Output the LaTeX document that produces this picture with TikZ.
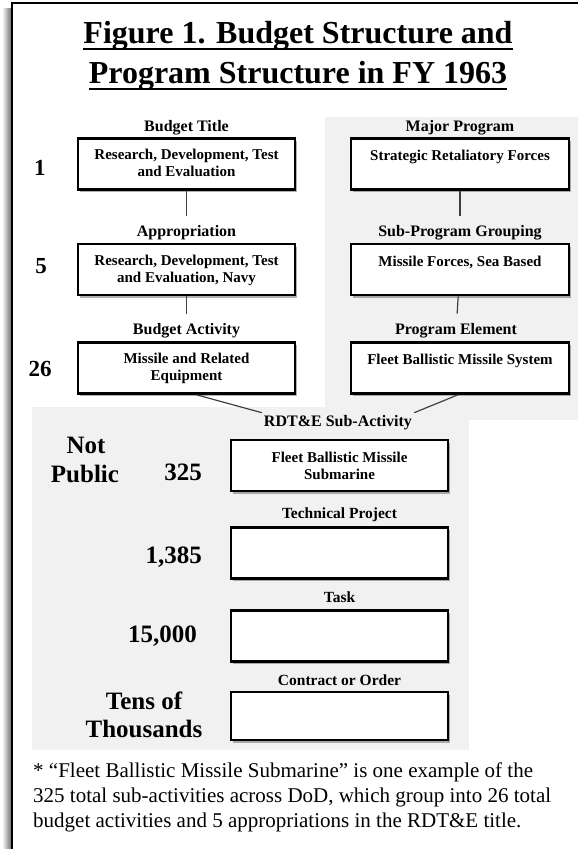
\documentclass[tikz,border=0pt]{standalone}
\usepackage{fontspec}
\setmainfont{Liberation Serif}
\usetikzlibrary{shadows}
\definecolor{panelgray}{RGB}{241,241,241}
\definecolor{conncol}{RGB}{64,64,64}
\begin{document}
\begin{tikzpicture}[x=1pt,y=-1pt,
  bx/.style={draw=black, line width=2.6pt, fill=white, inner sep=0pt,
    minimum width=217pt, minimum height=51pt,
    drop shadow={shadow xshift=1.5pt, shadow yshift=-2.5pt, opacity=0.3, fill=black}},
  ttl/.style={font=\fontsize{32}{40}\selectfont\bfseries, inner sep=0pt, anchor=base},
  lbl/.style={font=\fontsize{16}{18}\selectfont\bfseries, inner sep=1pt, anchor=base},
  slbl/.style={font=\fontsize{15.5}{17}\selectfont\bfseries, inner sep=1pt, anchor=base},
  btxt/.style={font=\fontsize{15}{17}\selectfont\bfseries, align=center, anchor=north, inner sep=0pt},
  num/.style={font=\fontsize{23}{27}\selectfont\bfseries, inner sep=0pt, anchor=base},
  big/.style={font=\fontsize{25}{30}\selectfont\bfseries, inner sep=0pt, anchor=base},
  fn/.style={font=\fontsize{21}{25}\selectfont, inner sep=0pt, anchor=base west},
  conn/.style={draw=conncol, line width=1.2pt},
  ul/.style={line width=2.3pt}]
\useasboundingbox (0,0) rectangle (578,849);
\fill[white] (0,0) rectangle (578,849);
% gray panels
\fill[panelgray] (325,117) rectangle (578,420);
\fill[panelgray] (32,407) rectangle (469,750);
% outer frame with shadow
\shade[left color=white, right color=black!55] (2,8) rectangle (11,849);
\draw[line width=2.5pt] (12,849) -- (12,3) -- (578,3);

% title
\node[ttl] (t1) at (298,43) {Figure 1. Budget Structure and};
\node[ttl] (t2) at (298,83) {Program Structure in FY 1963};
\draw[ul] ([yshift=-6pt]t1.base west) -- ([yshift=-6pt]t1.base east);
\draw[ul] ([yshift=-6pt]t2.base west) -- ([yshift=-6pt]t2.base east);

% left column
\node[lbl] (lt1) at (186.5,131) {Budget Title};
\node[bx] (l1) at (186.5,164) {};
\node[btxt] (l1t) at ([yshift=-12pt]l1.north) {Research, Development, Test\\and Evaluation};
\node[num] (n1) at (40,175) {1};

\node[lbl] (lt2) at (186.5,236) {Appropriation};
\node[bx] (l2) at (186.5,269.5) {};
\node[btxt] (l2t) at ([yshift=-12pt]l2.north) {Research, Development, Test\\and Evaluation, Navy};
\node[num] (n5) at (41,273) {5};

\node[lbl] (lt3) at (186.5,334) {Budget Activity};
\node[bx] (l3) at (186.5,368) {};
\node[btxt] (l3t) at ([yshift=-12pt]l3.north) {Missile and Related\\Equipment};
\node[num] (n26) at (40,376) {26};

\draw[conn, shorten >=8pt] (l1) -- (lt2);
\draw[conn, shorten >=8pt] (l2) -- (lt3);

% right column
\node[lbl] (rt1) at (460,131) {Major Program};
\node[bx, minimum width=218pt] (r1) at (460,164) {};
\node[btxt] (r1t) at ([yshift=-13pt]r1.north) {Strategic Retaliatory Forces};

\node[lbl] (rt2) at (460,236) {Sub-Program Grouping};
\node[bx, minimum width=218pt] (r2) at (460,269.5) {};
\node[btxt] (r2t) at ([yshift=-13pt]r2.north) {Missile Forces, Sea Based};

\node[lbl] (rt3) at (456,334) {Program Element};
\node[bx, minimum width=218pt] (r3) at (460,368) {};
\node[btxt] (r3t) at ([yshift=-13pt]r3.north) {Fleet Ballistic Missile System};

\draw[conn, shorten >=8pt] (r1) -- (rt2);
\draw[conn, shorten >=8pt] (r2) -- (rt3);

% sub-activity level
\node[lbl, inner sep=2pt] (rd) at (338,426) {RDT\&E Sub-Activity};
\draw[conn] ([xshift=10pt]l3.south) -- (rd.north west);
\draw[conn] ([xshift=-2pt]r3.south) -- (rd.north east);

\node[big] (np1) at (86,453) {Not};
\node[big] (np2) at (85,482) {Public};
\node[big] (c325) at (183,480) {325};
\node[bx, minimum height=51pt] (s1) at (339.5,465.5) {};
\node[btxt] (s1t) at ([yshift=-13pt]s1.north) {Fleet Ballistic Missile\\Submarine};

\node[slbl] (st2) at (339.5,518) {Technical Project};
\node[bx, minimum height=51pt] (s2) at (339.5,553) {};
\node[big, anchor=base east] (c1385) at (202,563) {1,385};

\node[slbl] (st3) at (339.5,602) {Task};
\node[bx, minimum height=51pt] (s3) at (339.5,636) {};
\node[big, anchor=base east] (c15000) at (197,642) {15,000};

\node[slbl] (st4) at (339.5,685) {Contract or Order};
\node[bx, minimum height=48pt] (s4) at (339.5,716) {};
\node[big] (tt1) at (144,709) {Tens of};
\node[big] (tt2) at (144,737) {Thousands};

% footnote
\node[fn] (f1) at (33,777) {* “Fleet Ballistic Missile Submarine” is one example of the};
\node[fn] (f2) at (33,802) {325 total sub-activities across DoD, which group into 26 total};
\node[fn] (f3) at (33,827) {budget activities and 5 appropriations in the RDT\&E title.};
\end{tikzpicture}
\end{document}
